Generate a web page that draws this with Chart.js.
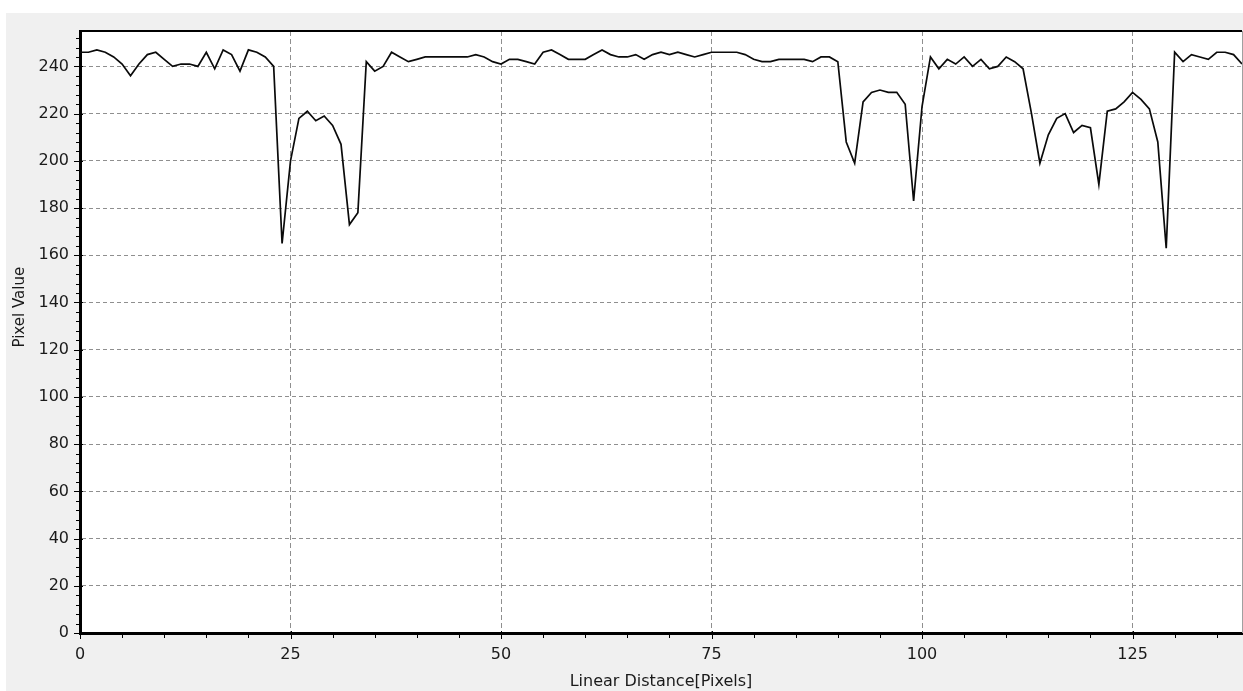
<!DOCTYPE html>
<html>
<head>
<meta charset="utf-8">
<title>Pixel profile</title>
<script src="https://cdn.jsdelivr.net/npm/chart.js@4.4.1/dist/chart.umd.min.js"></script>
<style>
    html, body { margin: 0; padding: 0; background: #ffffff; }
    #panel { position: absolute; left: 6px; top: 13px; width: 1237px; height: 678px; background: #f0f0f0; }
    #wrap { position: absolute; left: 0; top: 0; width: 1243px; height: 691px; }
</style>
</head>
<body>
<div id="panel"></div>
<div id="wrap"><canvas id="chart" width="1243" height="691"></canvas></div>
<script>
    "use strict";

    // Profile values, one per pixel along the line (distance 0 .. 138)
    const pixelValues = [
        246, 246, 247, 246, 244, 241, 236, 241, 245, 246,
        243, 240, 241, 241, 240, 246, 239, 247, 245, 238,
        247, 246, 244, 240, 165, 200, 218, 221, 217, 219,
        215, 207, 173, 178, 242, 238, 240, 246, 244, 242,
        243, 244, 244, 244, 244, 244, 244, 245, 244, 242,
        241, 243, 243, 242, 241, 246, 247, 245, 243, 243,
        243, 245, 247, 245, 244, 244, 245, 243, 245, 246,
        245, 246, 245, 244, 245, 246, 246, 246, 246, 245,
        243, 242, 242, 243, 243, 243, 243, 242, 244, 244,
        242, 208, 199, 225, 229, 230, 229, 229, 224, 183,
        223, 244, 239, 243, 241, 244, 240, 243, 239, 240,
        244, 242, 239, 220, 199, 211, 218, 220, 212, 215,
        214, 190, 221, 222, 225, 229, 226, 222, 208, 163,
        246, 242, 245, 244, 243, 246, 246, 245, 241
    ];

    // Axis ranges and tick spacing
    const xRange = [0, 138];
    const yRange = [0, 255];
    const xMajorStep = 25;
    const xMinorStep = 5;
    const yMajorStep = 20;
    const yMinorStep = 4;

    const xTitle = 'Linear Distance[Pixels]';
    const yTitle = 'Pixel Value';

    const labelFont = '"DejaVu Sans", Verdana, sans-serif';
    const textColor = '#1a1a1a';

    const points = pixelValues.map((v, i) => ({x: i, y: v}));

    // White plot background
    const plotBackground = {
        id: 'plotBackground',
        beforeDraw(chart) {
            const {ctx, chartArea: a} = chart;
            ctx.save();
            ctx.fillStyle = '#ffffff';
            ctx.fillRect(a.left, a.top, a.right - a.left, a.bottom - a.top);
            ctx.restore();
        }
    };

    // Frame, major and minor tick marks, y title (sits above the axis centre)
    const framePlugin = {
        id: 'frame',
        afterDraw(chart) {
            const {ctx, chartArea: a, scales: {x, y}} = chart;
            ctx.save();
            ctx.strokeStyle = '#000';
            ctx.lineWidth = 2;
            ctx.beginPath();
            ctx.moveTo(a.left, a.top);
            ctx.lineTo(a.right, a.top);
            ctx.stroke();
            ctx.strokeStyle = '#a0a0a0';
            ctx.lineWidth = 1;
            ctx.beginPath();
            ctx.moveTo(a.right + 0.5, a.top);
            ctx.lineTo(a.right + 0.5, a.bottom);
            ctx.stroke();

            ctx.strokeStyle = '#000';
            ctx.lineWidth = 1;
            ctx.beginPath();
            for (let v = xRange[0]; v <= xRange[1]; v += xMinorStep) {
                const px = Math.round(x.getPixelForValue(v)) + 0.5;
                const major = v % xMajorStep === 0;
                ctx.moveTo(px, a.bottom - (major ? 2 : 0));
                ctx.lineTo(px, a.bottom + (major ? 6 : 5));
            }
            for (let v = yRange[0]; v <= yRange[1]; v += yMinorStep) {
                const py = Math.round(y.getPixelForValue(v)) + 0.5;
                const major = v % yMajorStep === 0;
                ctx.moveTo(a.left - (major ? 6 : 4), py);
                ctx.lineTo(a.left + (major ? 3 : 0), py);
            }
            ctx.stroke();

            ctx.translate(20, y.getPixelForValue(138));
            ctx.rotate(-Math.PI / 2);
            ctx.fillStyle = textColor;
            ctx.font = '15px ' + labelFont;
            ctx.textAlign = 'center';
            ctx.textBaseline = 'middle';
            ctx.fillText(yTitle, 0, 0);
            ctx.restore();
        }
    };

    new Chart(document.getElementById('chart'), {
        type: 'line',
        data: {
            datasets: [{
                data: points,
                borderColor: '#0a0a0a',
                borderWidth: 1.7,
                pointRadius: 0,
                tension: 0,
                fill: false
            }]
        },
        options: {
            responsive: false,
            animation: false,
            events: [],
            layout: { padding: { top: 31, right: 1, left: 0, bottom: 0 } },
            plugins: {
                legend: { display: false },
                tooltip: { enabled: false }
            },
            scales: {
                x: {
                    type: 'linear',
                    min: xRange[0],
                    max: xRange[1],
                    afterFit: (scale) => { scale.height = 58; },
                    grid: {
                        color: '#8f8f8f',
                        lineWidth: 1,
                        drawTicks: false
                    },
                    border: { display: true, color: '#000', width: 3, dash: [5, 3] },
                    ticks: {
                        stepSize: xMajorStep,
                        includeBounds: false,
                        autoSkip: false,
                        maxRotation: 0,
                        padding: 12,
                        color: textColor,
                        font: { family: labelFont, size: 16 }
                    },
                    title: {
                        display: true,
                        text: xTitle,
                        color: textColor,
                        padding: { top: 0, bottom: 0 },
                        font: { family: labelFont, size: 16 }
                    }
                },
                y: {
                    type: 'linear',
                    min: yRange[0],
                    max: yRange[1],
                    afterFit: (scale) => { scale.width = 80; },
                    grid: {
                        color: '#8f8f8f',
                        lineWidth: 1,
                        drawTicks: false
                    },
                    border: { display: true, color: '#000', width: 3, dash: [4, 3] },
                    ticks: {
                        stepSize: yMajorStep,
                        includeBounds: false,
                        autoSkip: false,
                        padding: 11,
                        color: textColor,
                        font: { family: labelFont, size: 16 }
                    },
                    title: { display: false }
                }
            }
        },
        plugins: [plotBackground, framePlugin]
    });
</script>
</body>
</html>
